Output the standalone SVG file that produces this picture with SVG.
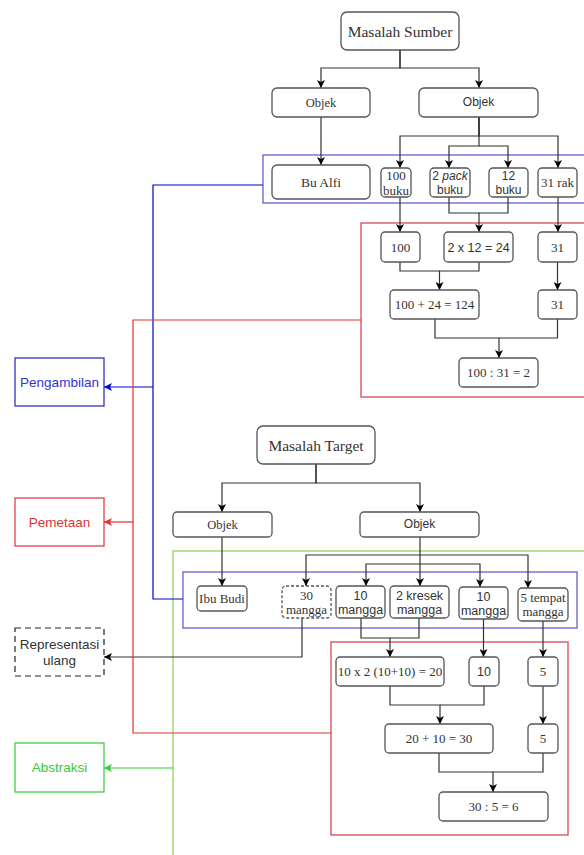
<svg xmlns="http://www.w3.org/2000/svg" width="584" height="855" viewBox="0 0 584 855">
<defs>
<style>
.nd{fill:#fff;stroke:#555;stroke-width:1.3}
.dash{stroke-dasharray:3,2}
.se{font-family:"Liberation Serif","Times New Roman",serif;fill:#333;text-anchor:middle}
.sa{font-family:"Liberation Sans",Arial,sans-serif;fill:#333;text-anchor:middle}
.cn{fill:none;stroke:#333;stroke-width:1.2}
.lab{font-family:"Liberation Sans",Arial,sans-serif;font-size:13.5px;text-anchor:middle}
</style>
<marker id="ak" viewBox="0 0 10 10" refX="10" refY="5" markerWidth="8" markerHeight="8" markerUnits="userSpaceOnUse" orient="auto"><path d="M0,0 L10,5 L0,10 L2.5,5 z" fill="#000"/></marker>
<marker id="ab" viewBox="0 0 10 10" refX="10" refY="5" markerWidth="8" markerHeight="8" markerUnits="userSpaceOnUse" orient="auto"><path d="M0,0 L10,5 L0,10 L2.5,5 z" fill="#0000cc"/></marker>
<marker id="ar" viewBox="0 0 10 10" refX="10" refY="5" markerWidth="8" markerHeight="8" markerUnits="userSpaceOnUse" orient="auto"><path d="M0,0 L10,5 L0,10 L2.5,5 z" fill="#dd3333"/></marker>
<marker id="ag" viewBox="0 0 10 10" refX="10" refY="5" markerWidth="8" markerHeight="8" markerUnits="userSpaceOnUse" orient="auto"><path d="M0,0 L10,5 L0,10 L2.5,5 z" fill="#33cc33"/></marker>
</defs>
<rect width="584" height="855" fill="#fff"/>

<g id="groups" fill="none" stroke-width="1.2">
<rect id="green-abstraksi" x="173" y="551" width="430" height="320" stroke="#88d050"/>
<rect id="blue-source" x="263" y="155" width="340" height="48" stroke="#5555cc"/>
<rect id="red-source" x="361" y="223" width="240" height="174" stroke="#d33a4a"/>
<rect id="blue-target" x="183" y="572" width="394" height="56" stroke="#5555cc"/>
<rect id="red-target" x="331" y="642" width="237" height="193" stroke="#d33a4a"/>
</g>

<g id="connectors">
<path class="cn" d="M400,50 V68 H321 V88" marker-end="url(#ak)"/>
<path class="cn" d="M400,50 V68 H479 V88" marker-end="url(#ak)"/>
<path class="cn" d="M321,117 V165" marker-end="url(#ak)"/>
<path class="cn" d="M479,117 V136 H400 V168" marker-end="url(#ak)"/>
<path class="cn" d="M479,117 V136 H558 V168" marker-end="url(#ak)"/>
<path class="cn" d="M479,117 V146 H449 V168" marker-end="url(#ak)"/>
<path class="cn" d="M479,146 H508 V168" marker-end="url(#ak)"/>
<path class="cn" d="M400,197 V232" marker-end="url(#ak)"/>
<path class="cn" d="M449,197 V213 H479 V232" marker-end="url(#ak)"/>
<path class="cn" d="M508,197 V213 H479"/>
<path class="cn" d="M558,197 V232" marker-end="url(#ak)"/>
<path class="cn" d="M400,262 V271 H439.5 V290" marker-end="url(#ak)"/>
<path class="cn" d="M479,262 V271 H439.5"/>
<path class="cn" d="M557.5,262 V290" marker-end="url(#ak)"/>
<path class="cn" d="M435,319 V338 H499 V358" marker-end="url(#ak)"/>
<path class="cn" d="M557.5,319 V338 H499"/>

<path class="cn" d="M316,464 V483 H222 V512" marker-end="url(#ak)"/>
<path class="cn" d="M316,464 V483 H420 V512" marker-end="url(#ak)"/>
<path class="cn" d="M222,537 V586" marker-end="url(#ak)"/>
<path class="cn" d="M420,537 V586" marker-end="url(#ak)"/>
<path class="cn" d="M420,555 H306 V586" marker-end="url(#ak)"/>
<path class="cn" d="M420,555 H528 V588" marker-end="url(#ak)"/>
<path class="cn" d="M420,564 H366 V586" marker-end="url(#ak)"/>
<path class="cn" d="M420,564 H480 V587" marker-end="url(#ak)"/>
<path class="cn" d="M361,618 V638 H390 V657" marker-end="url(#ak)"/>
<path class="cn" d="M419,618 V638 H390"/>
<path class="cn" d="M483.5,619 V657" marker-end="url(#ak)"/>
<path class="cn" d="M543,621 V657" marker-end="url(#ak)"/>
<path class="cn" d="M390,686 V705 H440 V724" marker-end="url(#ak)"/>
<path class="cn" d="M484,686 V705 H440"/>
<path class="cn" d="M543,686 V724" marker-end="url(#ak)"/>
<path class="cn" d="M439,753 V772 H493 V792" marker-end="url(#ak)"/>
<path class="cn" d="M543,753 V772 H493"/>

<path class="cn" d="M302,618 V657 H104" marker-end="url(#ak)"/>

<path fill="none" stroke="#0000cc" stroke-width="1.2" d="M263,185 H153 V599 H183"/>
<path fill="none" stroke="#0000cc" stroke-width="1.2" d="M153,387 H104" marker-end="url(#ab)"/>
<path fill="none" stroke="#dd3333" stroke-width="1.2" d="M361,320 H133 V733 H331"/>
<path fill="none" stroke="#dd3333" stroke-width="1.2" d="M133,522 H104" marker-end="url(#ar)"/>
<path fill="none" stroke="#33cc33" stroke-width="1.2" d="M173,768 H104" marker-end="url(#ag)"/>
</g>

<g id="n-masalah-sumber"><rect class="nd" x="341" y="12" width="118" height="38" rx="6"/><text class="se" x="400" y="36.5" font-size="15.5">Masalah Sumber</text></g>
<g id="n-objek-s1"><rect class="nd" x="272" y="88" width="98" height="29" rx="5"/><text class="se" x="321" y="107" font-size="12.5">Objek</text></g>
<g id="n-objek-s2"><rect class="nd" x="419" y="88" width="119" height="29" rx="5"/><text class="sa" x="478.5" y="106" font-size="12">Objek</text></g>
<g id="n-bu-alfi"><rect class="nd" x="272" y="165" width="98" height="34" rx="5"/><text class="se" x="321" y="186.5" font-size="13.5">Bu Alfi</text></g>
<g id="n-100-buku"><rect class="nd" x="381" y="168" width="30" height="29" rx="4"/><text class="se" x="396" y="180" font-size="13">100</text><text class="se" x="396" y="194.5" font-size="13">buku</text></g>
<g id="n-2-pack"><rect class="nd" x="430" y="168" width="40" height="29" rx="4"/><text class="sa" x="450" y="180" font-size="12">2 <tspan font-style="italic">pack</tspan></text><text class="sa" x="450" y="194" font-size="12">buku</text></g>
<g id="n-12-buku"><rect class="nd" x="489" y="168" width="39" height="29" rx="4"/><text class="sa" x="508.5" y="180" font-size="12">12</text><text class="sa" x="508.5" y="194" font-size="12">buku</text></g>
<g id="n-31-rak"><rect class="nd" x="538" y="168" width="39" height="29" rx="4"/><text class="se" x="557.5" y="187" font-size="13">31 rak</text></g>
<g id="n-100"><rect class="nd" x="381" y="232" width="39" height="30" rx="4"/><text class="se" x="400.5" y="251.5" font-size="13">100</text></g>
<g id="n-2x12"><rect class="nd" x="444" y="232" width="69" height="30" rx="4"/><text class="sa" x="478.5" y="251.5" font-size="12.5">2 x 12 = 24</text></g>
<g id="n-31a"><rect class="nd" x="538" y="232" width="39" height="30" rx="4"/><text class="se" x="557.5" y="251.5" font-size="13">31</text></g>
<g id="n-sum-s"><rect class="nd" x="390" y="290" width="89" height="29" rx="4"/><text class="se" x="434.5" y="309" font-size="13">100 + 24 = 124</text></g>
<g id="n-31b"><rect class="nd" x="538" y="290" width="39" height="29" rx="4"/><text class="se" x="557.5" y="309" font-size="13">31</text></g>
<g id="n-final-s"><rect class="nd" x="459" y="358" width="79" height="29" rx="4"/><text class="se" x="498.5" y="377" font-size="13">100 : 31 = 2</text></g>

<g id="n-masalah-target"><rect class="nd" x="257" y="426" width="118" height="38" rx="6"/><text class="se" x="316" y="450.5" font-size="15.5">Masalah Target</text></g>
<g id="n-objek-t1"><rect class="nd" x="173" y="512" width="99" height="25" rx="4"/><text class="se" x="222.5" y="529" font-size="12.5">Objek</text></g>
<g id="n-objek-t2"><rect class="nd" x="360" y="512" width="119" height="25" rx="4"/><text class="sa" x="419.5" y="528" font-size="12">Objek</text></g>
<g id="n-ibu-budi"><rect class="nd" x="197" y="586" width="50" height="25" rx="4"/><text class="se" x="222" y="603" font-size="13">Ibu Budi</text></g>
<g id="n-30-mangga"><rect class="nd dash" x="282" y="586" width="49" height="32" rx="4"/><text class="se" x="306.5" y="600" font-size="13">30</text><text class="se" x="306.5" y="613.5" font-size="13">mangga</text></g>
<g id="n-10-mangga-a"><rect class="nd" x="336" y="586" width="49" height="32" rx="4"/><text class="sa" x="360.5" y="600" font-size="12.5">10</text><text class="sa" x="360.5" y="614" font-size="12.5">mangga</text></g>
<g id="n-2-kresek"><rect class="nd" x="390" y="586" width="59" height="32" rx="4"/><text class="sa" x="419.5" y="600" font-size="12.5">2 kresek</text><text class="sa" x="419.5" y="614" font-size="12.5">mangga</text></g>
<g id="n-10-mangga-b"><rect class="nd" x="459" y="587" width="49" height="32" rx="4"/><text class="sa" x="483.5" y="601" font-size="12.5">10</text><text class="sa" x="483.5" y="615" font-size="12.5">mangga</text></g>
<g id="n-5-tempat"><rect class="nd" x="518" y="588" width="50" height="33" rx="4"/><text class="se" x="543" y="602" font-size="13">5 tempat</text><text class="se" x="543" y="615.5" font-size="13">mangga</text></g>
<g id="n-10x2"><rect class="nd" x="336" y="657" width="108" height="29" rx="4"/><text class="se" x="390" y="676" font-size="13">10 x 2 (10+10) = 20</text></g>
<g id="n-10"><rect class="nd" x="469" y="657" width="30" height="29" rx="4"/><text class="sa" x="484" y="676" font-size="12.5">10</text></g>
<g id="n-5a"><rect class="nd" x="528" y="657" width="30" height="29" rx="4"/><text class="se" x="543" y="676" font-size="13">5</text></g>
<g id="n-sum-t"><rect class="nd" x="385" y="724" width="108" height="29" rx="4"/><text class="se" x="439" y="743" font-size="13">20 + 10 = 30</text></g>
<g id="n-5b"><rect class="nd" x="528" y="724" width="30" height="29" rx="4"/><text class="se" x="543" y="743" font-size="13">5</text></g>
<g id="n-final-t"><rect class="nd" x="439" y="792" width="109" height="29" rx="4"/><text class="se" x="493.5" y="811" font-size="13">30 : 5 = 6</text></g>

<g id="n-pengambilan"><rect x="15" y="358" width="89" height="48" fill="#fff" stroke="#2222bb" stroke-width="1.2"/><text class="lab" x="59.5" y="387" fill="#3333cc">Pengambilan</text></g>
<g id="n-pemetaan"><rect x="15" y="498" width="89" height="48" fill="#fff" stroke="#dd3333" stroke-width="1.2"/><text class="lab" x="59.5" y="527" fill="#dd3333">Pemetaan</text></g>
<g id="n-representasi"><rect x="15" y="628" width="89" height="48" fill="#fff" stroke="#222" stroke-width="1.2" stroke-dasharray="6,4"/><text class="lab" x="59.5" y="649" fill="#333">Representasi</text><text class="lab" x="59.5" y="665" fill="#333">ulang</text></g>
<g id="n-abstraksi"><rect x="15" y="743" width="89" height="49" fill="#fff" stroke="#33cc33" stroke-width="1.2"/><text class="lab" x="59.5" y="772" fill="#33cc33">Abstraksi</text></g>
</svg>
